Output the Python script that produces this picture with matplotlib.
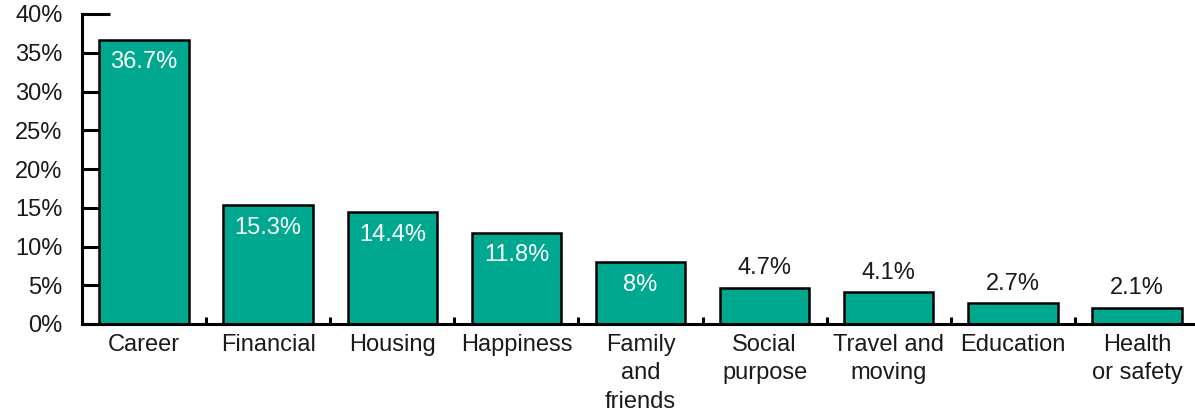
import numpy as np
import matplotlib.pyplot as plt
from matplotlib.ticker import FixedLocator, PercentFormatter

CATEGORIES = ["Career", "Financial", "Housing", "Happiness", "Family\nand\nfriends",
              "Social\npurpose", "Travel and\nmoving", "Education", "Health\nor safety"]
SHARES = [36.7, 15.3, 14.4, 11.8, 8, 4.7, 4.1, 2.7, 2.1]
VALUE_LABELS = ["36.7%", "15.3%", "14.4%", "11.8%", "8%", "4.7%", "4.1%", "2.7%", "2.1%"]
Y_TICKS = [0, 5, 10, 15, 20, 25, 30, 35, 40]

BAR_COLOR = "#00A88F"
INK = "#1a1a1a"

plt.rcParams["font.family"] = ["Liberation Sans", "DejaVu Sans"]
plt.rcParams["font.size"] = 17


def main():
    fig = plt.figure(figsize=(11.95, 4.12), dpi=100)
    # axes run a few pixels past the right edge, so the last slot is cut
    ax = fig.add_axes([82 / 1195, 88 / 412, 1117 / 1195, 310 / 412])

    x = np.arange(len(CATEGORIES))
    ax.bar(x, SHARES, width=0.72, color=BAR_COLOR, edgecolor="black",
           linewidth=1.8, zorder=3)

    # big bars get the value inside near the top, small ones above
    for xi, v, lab in zip(x, SHARES, VALUE_LABELS):
        if v >= 8:
            ax.text(xi, v - 2.95, lab, ha="center", va="center",
                    color="white", zorder=4)
        else:
            ax.text(xi, v + 2.5, lab, ha="center", va="center", color=INK)

    ax.set_xlim(-0.5, len(CATEGORIES) - 0.5)
    ax.set_ylim(0, 40)

    ax.set_yticks(Y_TICKS)
    ax.yaxis.set_major_formatter(PercentFormatter(decimals=0))
    ax.tick_params(axis="y", direction="in", length=20, width=2.2,
                   colors="black", labelcolor=INK, pad=14)

    ax.set_xticks(x)
    ax.set_xticklabels(CATEGORIES, color=INK, va="top", linespacing=1.38)
    ax.tick_params(axis="x", which="major", length=0, pad=7)
    ax.xaxis.set_minor_locator(FixedLocator(x[1:] - 0.5))
    ax.tick_params(axis="x", which="minor", direction="in", length=5, width=2.2)

    for side in ("top", "right"):
        ax.spines[side].set_visible(False)
    for side in ("left", "bottom"):
        ax.spines[side].set_linewidth(2.2)
        ax.spines[side].set_zorder(5)

    fig.savefig("out.png", dpi=100)


if __name__ == "__main__":
    main()
